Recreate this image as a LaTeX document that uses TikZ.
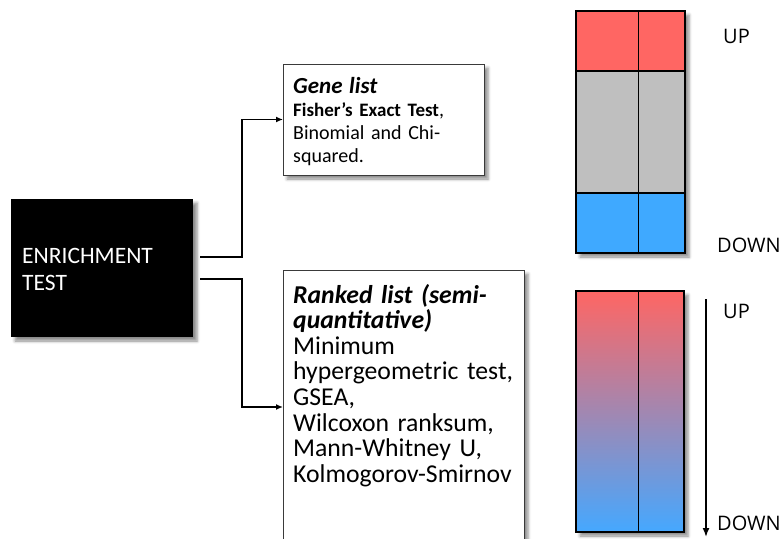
\documentclass[tikz,border=0pt]{standalone}
\usepackage{fontspec}
\setmainfont{Carlito}
\newfontfamily\tagfont{Open Sans}
\usetikzlibrary{shadows.blur,arrows.meta}
\definecolor{upred}{HTML}{FF6663}
\definecolor{downblue}{HTML}{3FA9FF}
\definecolor{gradblue}{HTML}{45A8FF}
\definecolor{midgrey}{HTML}{BFBFBF}
\definecolor{edgegrey}{HTML}{3A3A3A}
\tikzset{
  softshadow/.style={blur shadow={shadow xshift=4pt,shadow yshift=-4pt,shadow blur radius=3pt,shadow opacity=45}},
  panel/.style={anchor=north west, inner sep=0pt, outer sep=0pt},
  textbox/.style={panel, draw=edgegrey, line width=0.9pt, fill=white, softshadow},
  cell/.style={panel, draw=black, line width=2.6pt},
  divider/.style={black, line width=0.8pt},
  conn/.style={draw=black, line width=1.7pt, -{Latex[length=7pt,width=6pt]}},
  tag/.style={anchor=base west, inner sep=0pt, font=\tagfont\fontsize{20}{24}\selectfont},
  body/.style={anchor=base west, inner sep=0pt, align=left},
}
\begin{document}
\begin{tikzpicture}[x=1pt,y=-1pt]
\useasboundingbox (0,0) rectangle (784,538);

% the test box on the left
\node[panel, fill=black, softshadow, minimum width=182pt, minimum height=138pt] (enrich) at (11,199) {};
\node[body, text=white, text width=170pt, font=\fontsize{23.5}{27}\selectfont] (enrichtxt) at (22,263) {ENRICHMENT\\TEST};

% gene list box
\node[textbox, minimum width=201pt, minimum height=111pt] (gene) at (283,64) {};
\node[body, text width=190pt, font=\fontsize{20}{23}\selectfont] (genetxt) at (293,93)
  {{\fontsize{23}{23}\selectfont\bfseries\itshape Gene list}\\
   {\fontsize{19}{23}\selectfont\bfseries Fisher's Exact Test},\\
   Binomial and Chi-\\
   squared.};

% ranked list box
\node[textbox, minimum width=241pt, minimum height=274pt] (rankbox) at (283,270) {};
\node[body, text width=232pt, font=\fontsize{25.7}{25.6}\selectfont] (ranktxt) at (293,303)
  {{\bfseries\itshape Ranked list (semi-\\quantitative)}\\
   Minimum\\
   hypergeometric test,\\
   GSEA,\\
   Wilcoxon ranksum,\\
   Mann-Whitney U,\\
   Kolmogorov-Smirnov};

% connectors
\draw[conn] ([xshift=7pt,yshift=11pt]enrich.east) -- ++(42,0) |- (gene.west);
\draw[conn] ([xshift=7pt,yshift=-11pt]enrich.east) -- ++(42,0) |- (rankbox.west);

% three-band bar
\node[panel, fill=white, softshadow, minimum width=109pt, minimum height=242pt] (bar1) at (576,11) {};
\node[cell, fill=upred, minimum width=109pt, minimum height=60pt] (bar1up) at (576,11) {};
\node[cell, fill=midgrey, minimum width=109pt, minimum height=122pt] (bar1mid) at (576,71) {};
\node[cell, fill=downblue, minimum width=109pt, minimum height=60pt] (bar1down) at (576,193) {};
\draw[divider] ([xshift=7.5pt]bar1.north) -- ([xshift=7.5pt]bar1.south);

% graded bar
\node[cell, softshadow, top color=upred, bottom color=gradblue, minimum width=108pt, minimum height=241pt] (bar2) at (576,291) {};
\draw[divider] ([xshift=8pt]bar2.north) -- ([xshift=8pt]bar2.south);

% rank direction arrow
\coordinate (ranktop) at (706,299);
\coordinate (rankbot) at (706,537);
\draw[line width=1.6pt, -{Latex[length=9pt,width=7pt]}] (ranktop) -- (rankbot);

% labels
\node[tag] (up1) at (723,43) {UP};
\node[tag] (down1) at (717,252) {DOWN};
\node[tag] (up2) at (723,318) {UP};
\node[tag] (down2) at (717,530) {DOWN};
\end{tikzpicture}
\end{document}
